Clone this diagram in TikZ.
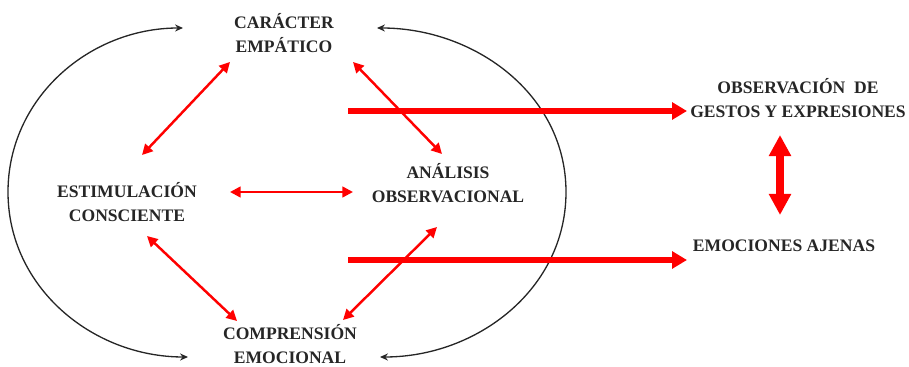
\documentclass[tikz,border=0pt]{standalone}
\usepackage{fontspec}
\setmainfont{Liberation Serif}
\usepackage{tikz}
\usetikzlibrary{arrows.meta}

\begin{document}
\begin{tikzpicture}[
  x=0.02cm, y=-0.02cm,
  concept/.style={font=\bfseries\fontsize{10}{13.3}\selectfont, align=center,
                  inner sep=0pt, text=black!85},
  cycle/.style={draw=black!85, line width=0.75pt, >={Stealth[length=4.5pt,width=4pt]}, <->},
  link/.style={draw=red, line width=1.4pt, >={Triangle[length=6pt,width=6pt]}, <->},
  flow/.style={draw=red, line width=3.4pt, -{Triangle[length=8.5pt,width=9.5pt]}},
  swap/.style={draw=red, line width=5pt, >={Triangle[length=12pt,width=12pt]}, <->}
]
  \useasboundingbox (0,0) rectangle (909,367);

  % Concepts inside the cycle
  \node[concept] (car)  at (284,33)  {CARÁCTER\\EMPÁTICO};
  \node[concept] (est)  at (127,202) {ESTIMULACIÓN\\CONSCIENTE};
  \node[concept] (ana)  at (448,183) {ANÁLISIS\\OBSERVACIONAL};
  \node[concept] (comp) at (290,344) {COMPRENSIÓN\\EMOCIONAL};

  % Outcomes on the right
  \node[concept] (obs) at (798,98)  {OBSERVACIÓN\ \ DE\\GESTOS Y EXPRESIONES};
  \node[concept] (emo) at (784,246) {EMOCIONES AJENAS};

  % Ends of the two black arcs
  \coordinate (lt) at (183,28);
  \coordinate (lm) at (8,192);
  \coordinate (lb) at (188,357);
  \coordinate (rt) at (377,28);
  \coordinate (rm) at (566,192);
  \coordinate (rb) at (380,357);

  % Black arcs
  \draw[cycle] (lt) to[out=180,in=90] (lm) to[out=-90,in=180] (lb);
  \draw[cycle] (rt) to[out=0,in=90] (rm) to[out=-90,in=0] (rb);

  % Links between the four concepts
  \draw[link] ([shift={(15,-47)}]est.center) -- ([shift={(-54,29)}]car.center);
  \draw[link] ([shift={(69,29)}]car.center) -- ([shift={(-6,-29)}]ana.center);
  \draw[link] ([shift={(103,-10)}]est.center) -- ([shift={(-95,9)}]ana.center);
  \draw[link] ([shift={(20,34)}]est.center) -- ([shift={(-53,-23)}]comp.center);
  \draw[link] ([shift={(-11,44)}]ana.center) -- ([shift={(53,-24)}]comp.center);

  % Thick arrows to the outcomes
  \coordinate (tail1) at (348,111);
  \coordinate (tail2) at (348,260);
  \draw[flow] (tail1) -- ([shift={(-111,13)}]obs.center);
  \draw[flow] (tail2) -- ([shift={(-97,14)}]emo.center);

  % Outcomes linked both ways
  \draw[swap] ([shift={(-18,37)}]obs.center) -- ([shift={(-4,-31)}]emo.center);
\end{tikzpicture}
\end{document}
